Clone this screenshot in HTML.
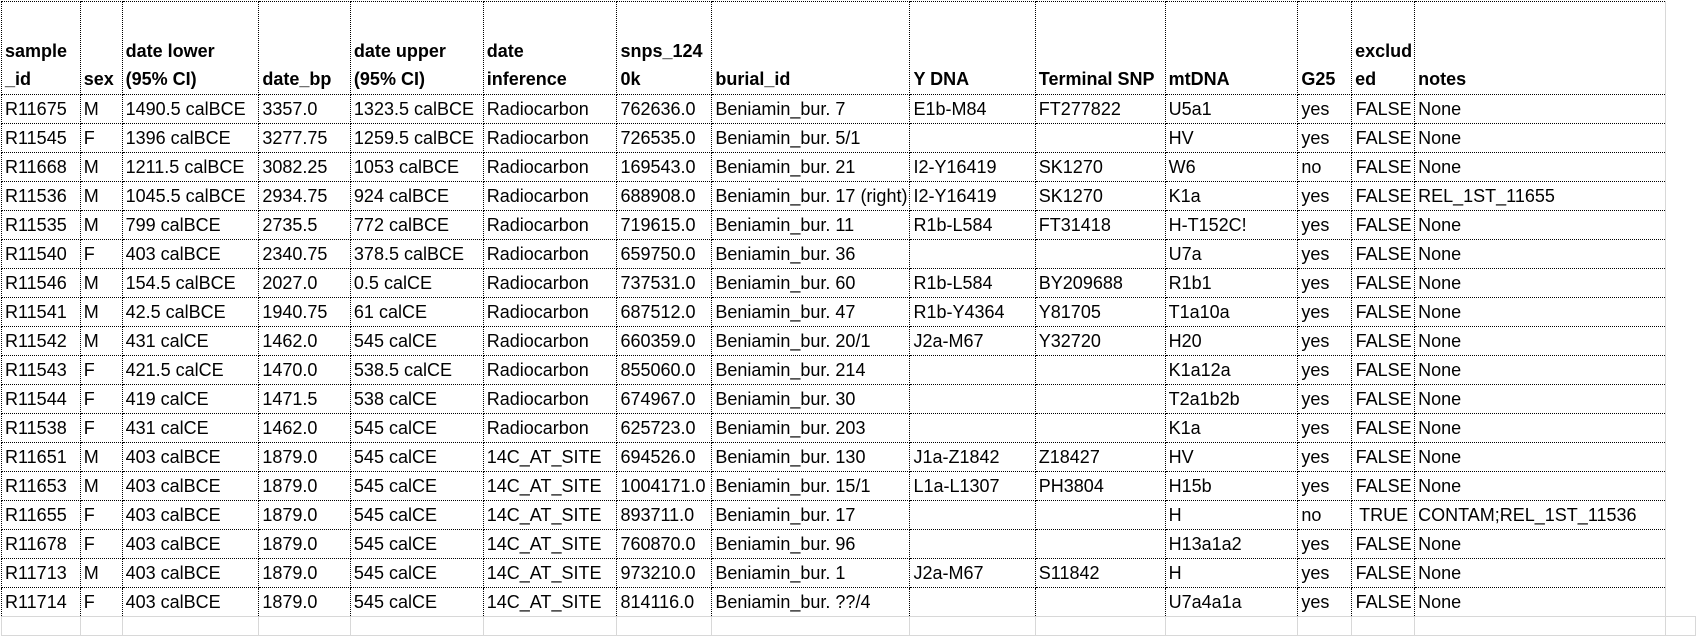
<!DOCTYPE html>
<html><head><meta charset="utf-8"><style>
html,body{margin:0;padding:0;background:#fff;width:1696px;height:633px;overflow:hidden}
table{position:absolute;left:1px;top:1px;border-collapse:collapse;table-layout:fixed;font-family:"Liberation Sans",sans-serif;font-size:18px;color:#000}
td{border:1px dotted #000;padding:0 2px 0 3px;white-space:nowrap;overflow:hidden;height:28px;line-height:28px;vertical-align:bottom}
tr.h td{height:91px;font-weight:bold;line-height:28px;padding-bottom:1px}
td.c{text-align:center}
tr.e td{border:1px solid #d8d8d8;height:18px}
td.x{border:none;border-left:1px solid #d8d8d8}
</style></head><body>
<table>
<colgroup><col style="width:79px"><col style="width:42px"><col style="width:137px"><col style="width:92px"><col style="width:133px"><col style="width:134px"><col style="width:95px"><col style="width:197px"><col style="width:126px"><col style="width:130px"><col style="width:134px"><col style="width:54px"><col style="width:63px"><col style="width:252px"><col style="width:30px"></colgroup>
<tr class="h"><td>sample<br>_id</td><td>sex</td><td>date lower<br>(95% CI)</td><td>date_bp</td><td>date upper<br>(95% CI)</td><td>date<br>inference</td><td>snps_124<br>0k</td><td>burial_id</td><td>Y DNA</td><td>Terminal SNP</td><td>mtDNA</td><td>G25</td><td>exclud<br>ed</td><td>notes</td><td class="x"></td></tr>
<tr><td>R11675</td><td>M</td><td>1490.5 calBCE</td><td>3357.0</td><td>1323.5 calBCE</td><td>Radiocarbon</td><td>762636.0</td><td>Beniamin_bur. 7</td><td>E1b-M84</td><td>FT277822</td><td>U5a1</td><td>yes</td><td class="c">FALSE</td><td>None</td><td class="x"></td></tr>
<tr><td>R11545</td><td>F</td><td>1396 calBCE</td><td>3277.75</td><td>1259.5 calBCE</td><td>Radiocarbon</td><td>726535.0</td><td>Beniamin_bur. 5/1</td><td></td><td></td><td>HV</td><td>yes</td><td class="c">FALSE</td><td>None</td><td class="x"></td></tr>
<tr><td>R11668</td><td>M</td><td>1211.5 calBCE</td><td>3082.25</td><td>1053 calBCE</td><td>Radiocarbon</td><td>169543.0</td><td>Beniamin_bur. 21</td><td>I2-Y16419</td><td>SK1270</td><td>W6</td><td>no</td><td class="c">FALSE</td><td>None</td><td class="x"></td></tr>
<tr><td>R11536</td><td>M</td><td>1045.5 calBCE</td><td>2934.75</td><td>924 calBCE</td><td>Radiocarbon</td><td>688908.0</td><td>Beniamin_bur. 17 (right)</td><td>I2-Y16419</td><td>SK1270</td><td>K1a</td><td>yes</td><td class="c">FALSE</td><td>REL_1ST_11655</td><td class="x"></td></tr>
<tr><td>R11535</td><td>M</td><td>799 calBCE</td><td>2735.5</td><td>772 calBCE</td><td>Radiocarbon</td><td>719615.0</td><td>Beniamin_bur. 11</td><td>R1b-L584</td><td>FT31418</td><td>H-T152C!</td><td>yes</td><td class="c">FALSE</td><td>None</td><td class="x"></td></tr>
<tr><td>R11540</td><td>F</td><td>403 calBCE</td><td>2340.75</td><td>378.5 calBCE</td><td>Radiocarbon</td><td>659750.0</td><td>Beniamin_bur. 36</td><td></td><td></td><td>U7a</td><td>yes</td><td class="c">FALSE</td><td>None</td><td class="x"></td></tr>
<tr><td>R11546</td><td>M</td><td>154.5 calBCE</td><td>2027.0</td><td>0.5 calCE</td><td>Radiocarbon</td><td>737531.0</td><td>Beniamin_bur. 60</td><td>R1b-L584</td><td>BY209688</td><td>R1b1</td><td>yes</td><td class="c">FALSE</td><td>None</td><td class="x"></td></tr>
<tr><td>R11541</td><td>M</td><td>42.5 calBCE</td><td>1940.75</td><td>61 calCE</td><td>Radiocarbon</td><td>687512.0</td><td>Beniamin_bur. 47</td><td>R1b-Y4364</td><td>Y81705</td><td>T1a10a</td><td>yes</td><td class="c">FALSE</td><td>None</td><td class="x"></td></tr>
<tr><td>R11542</td><td>M</td><td>431 calCE</td><td>1462.0</td><td>545 calCE</td><td>Radiocarbon</td><td>660359.0</td><td>Beniamin_bur. 20/1</td><td>J2a-M67</td><td>Y32720</td><td>H20</td><td>yes</td><td class="c">FALSE</td><td>None</td><td class="x"></td></tr>
<tr><td>R11543</td><td>F</td><td>421.5 calCE</td><td>1470.0</td><td>538.5 calCE</td><td>Radiocarbon</td><td>855060.0</td><td>Beniamin_bur. 214</td><td></td><td></td><td>K1a12a</td><td>yes</td><td class="c">FALSE</td><td>None</td><td class="x"></td></tr>
<tr><td>R11544</td><td>F</td><td>419 calCE</td><td>1471.5</td><td>538 calCE</td><td>Radiocarbon</td><td>674967.0</td><td>Beniamin_bur. 30</td><td></td><td></td><td>T2a1b2b</td><td>yes</td><td class="c">FALSE</td><td>None</td><td class="x"></td></tr>
<tr><td>R11538</td><td>F</td><td>431 calCE</td><td>1462.0</td><td>545 calCE</td><td>Radiocarbon</td><td>625723.0</td><td>Beniamin_bur. 203</td><td></td><td></td><td>K1a</td><td>yes</td><td class="c">FALSE</td><td>None</td><td class="x"></td></tr>
<tr><td>R11651</td><td>M</td><td>403 calBCE</td><td>1879.0</td><td>545 calCE</td><td>14C_AT_SITE</td><td>694526.0</td><td>Beniamin_bur. 130</td><td>J1a-Z1842</td><td>Z18427</td><td>HV</td><td>yes</td><td class="c">FALSE</td><td>None</td><td class="x"></td></tr>
<tr><td>R11653</td><td>M</td><td>403 calBCE</td><td>1879.0</td><td>545 calCE</td><td>14C_AT_SITE</td><td>1004171.0</td><td>Beniamin_bur. 15/1</td><td>L1a-L1307</td><td>PH3804</td><td>H15b</td><td>yes</td><td class="c">FALSE</td><td>None</td><td class="x"></td></tr>
<tr><td>R11655</td><td>F</td><td>403 calBCE</td><td>1879.0</td><td>545 calCE</td><td>14C_AT_SITE</td><td>893711.0</td><td>Beniamin_bur. 17</td><td></td><td></td><td>H</td><td>no</td><td class="c">TRUE</td><td>CONTAM;REL_1ST_11536</td><td class="x"></td></tr>
<tr><td>R11678</td><td>F</td><td>403 calBCE</td><td>1879.0</td><td>545 calCE</td><td>14C_AT_SITE</td><td>760870.0</td><td>Beniamin_bur. 96</td><td></td><td></td><td>H13a1a2</td><td>yes</td><td class="c">FALSE</td><td>None</td><td class="x"></td></tr>
<tr><td>R11713</td><td>M</td><td>403 calBCE</td><td>1879.0</td><td>545 calCE</td><td>14C_AT_SITE</td><td>973210.0</td><td>Beniamin_bur. 1</td><td>J2a-M67</td><td>S11842</td><td>H</td><td>yes</td><td class="c">FALSE</td><td>None</td><td class="x"></td></tr>
<tr><td>R11714</td><td>F</td><td>403 calBCE</td><td>1879.0</td><td>545 calCE</td><td>14C_AT_SITE</td><td>814116.0</td><td>Beniamin_bur. ??/4</td><td></td><td></td><td>U7a4a1a</td><td>yes</td><td class="c">FALSE</td><td>None</td><td class="x"></td></tr>
<tr class="e"><td></td><td></td><td></td><td></td><td></td><td></td><td></td><td></td><td></td><td></td><td></td><td></td><td></td><td></td><td></td></tr>
</table>
</body></html>
